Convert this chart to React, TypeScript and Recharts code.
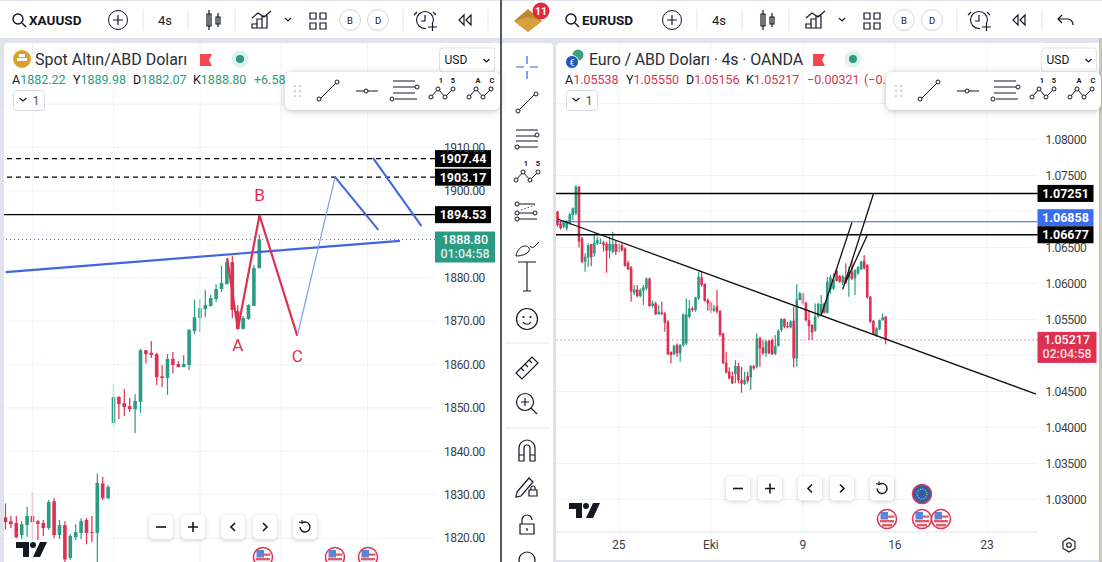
import React from 'react';
import {
  Bar,
  CartesianGrid,
  ComposedChart,
  Label,
  Line,
  ReferenceDot,
  ReferenceLine,
  XAxis,
  YAxis,
} from 'recharts';

const UP = '#2b9b83';
const DOWN = '#dd3152';
const GRID = '#f0f3fa';
const AXIS_TEXT = '#3b3f4a';
const BLUE = '#3f66e0';
const FONT = 'Roboto, sans-serif';

// XAUUSD, 4h candles
const goldOpen = [1824.8, 1823.9, 1823.5, 1820.7, 1823.0, 1825.1, 1823.9, 1823.5, 1822.3, 1828.5, 1820.7, 1823.0, 1815.4, 1820.2, 1821.2, 1824.2, 1821.4, 1821.2, 1832.6, 1829.2, 1846.5, 1852.5, 1851.1, 1850.4, 1849.7, 1851.4, 1863.3, 1862.7, 1862.4, 1857.3, 1856.9, 1861.3, 1860.1, 1859.4, 1859.9, 1867.7, 1870.7, 1872.8, 1873.5, 1875.1, 1877.4, 1878.5, 1883.6, 1872.3, 1868.2, 1870.5, 1873.5, 1882.22];
const goldHigh = [1828.0, 1825.1, 1825.1, 1823.9, 1827.2, 1830.6, 1824.2, 1824.2, 1828.8, 1829.2, 1824.2, 1823.9, 1820.9, 1823.2, 1824.6, 1824.6, 1825.1, 1834.9, 1834.1, 1832.2, 1855.5, 1852.7, 1854.4, 1852.3, 1853.2, 1863.6, 1863.3, 1865.4, 1862.7, 1859.9, 1862.4, 1862.9, 1860.8, 1862.2, 1868.1, 1874.9, 1875.1, 1877.2, 1876.0, 1878.5, 1882.7, 1884.5, 1885.0, 1873.7, 1871.2, 1873.9, 1882.9, 1889.98];
const goldLow = [1822.1, 1822.3, 1820.0, 1819.8, 1820.3, 1819.6, 1819.6, 1820.5, 1821.9, 1820.0, 1819.8, 1814.5, 1815.0, 1819.6, 1819.8, 1818.6, 1819.1, 1814.5, 1828.8, 1829.0, 1845.6, 1847.4, 1848.1, 1849.1, 1844.2, 1848.8, 1860.3, 1861.5, 1855.3, 1854.8, 1853.0, 1858.0, 1859.4, 1859.4, 1858.7, 1867.0, 1867.5, 1870.9, 1873.3, 1874.4, 1876.7, 1878.5, 1870.7, 1868.1, 1868.1, 1870.3, 1873.5, 1882.07];
const goldClose = [1823.7, 1823.2, 1820.2, 1823.2, 1825.1, 1823.7, 1823.3, 1822.3, 1828.3, 1820.7, 1823.0, 1815.1, 1820.5, 1821.4, 1823.9, 1821.2, 1821.3, 1832.7, 1829.2, 1831.8, 1852.5, 1850.9, 1850.2, 1849.7, 1851.6, 1863.3, 1862.4, 1862.2, 1857.1, 1856.9, 1861.3, 1859.9, 1859.4, 1860.1, 1868.0, 1870.9, 1873.0, 1873.7, 1875.3, 1877.4, 1878.8, 1883.6, 1872.6, 1868.2, 1870.7, 1873.7, 1882.2, 1888.8];
const goldTicks = [1820, 1830, 1840, 1850, 1860, 1870, 1880, 1900, 1910];
const goldGridLevels = [1820, 1830, 1840, 1850, 1860, 1870, 1880, 1890, 1900, 1910, 1920];
const goldSessions = [5, 20, 36, 51, 67];
const goldTrend = [[0, 1881.3], [73, 1888.5]];
const goldWave = [[41, 1884.5], [43, 1868.2], [47, 1894.4], [54, 1866.6]];
const goldRise = [[54, 1866.6], [61, 1903.2]];
const goldFallA = [[61, 1903.2], [69, 1891.0]];
const goldFallB = [[68, 1907.6], [77, 1891.9]];
const GOLD_SLOTS = 80;

// EURUSD, 4h candles
const euroOpen = [1.06997, 1.06835, 1.06789, 1.06766, 1.06835, 1.06951, 1.06974, 1.07344, 1.06627, 1.06303, 1.06363, 1.06548, 1.06419, 1.06557, 1.06567, 1.06571, 1.06548, 1.06456, 1.06442, 1.06548, 1.06442, 1.06534, 1.06488, 1.06289, 1.06224, 1.05872, 1.05918, 1.05826, 1.05900, 1.05932, 1.06067, 1.05687, 1.05724, 1.05576, 1.05599, 1.05585, 1.05469, 1.05053, 1.05016, 1.05145, 1.05030, 1.05145, 1.05168, 1.05539, 1.05655, 1.05631, 1.05793, 1.06085, 1.05993, 1.05770, 1.05738, 1.05622, 1.05687, 1.05617, 1.05307, 1.04900, 1.04775, 1.04715, 1.04742, 1.04854, 1.04659, 1.04604, 1.04715, 1.04696, 1.04854, 1.04844, 1.05238, 1.05113, 1.05030, 1.05205, 1.05215, 1.05020, 1.05131, 1.05354, 1.05506, 1.05409, 1.05391, 1.05483, 1.04960, 1.05770, 1.05863, 1.05733, 1.05492, 1.05423, 1.05344, 1.05539, 1.05585, 1.05724, 1.05594, 1.05918, 1.05928, 1.06178, 1.06104, 1.06011, 1.06094, 1.06071, 1.06164, 1.06071, 1.06141, 1.06196, 1.06317, 1.06256, 1.05817, 1.05483, 1.05275, 1.05363, 1.05492, 1.05538];
const euroHigh = [1.07011, 1.06882, 1.06882, 1.06882, 1.06983, 1.07057, 1.07368, 1.07354, 1.06650, 1.06419, 1.06557, 1.06548, 1.06696, 1.06650, 1.06627, 1.06594, 1.06580, 1.06650, 1.06719, 1.06594, 1.06557, 1.06557, 1.06502, 1.06317, 1.06243, 1.05979, 1.05979, 1.05932, 1.05979, 1.06085, 1.06085, 1.05761, 1.05747, 1.05701, 1.05747, 1.05608, 1.05492, 1.05053, 1.05145, 1.05168, 1.05159, 1.05585, 1.05793, 1.05770, 1.05678, 1.05816, 1.06164, 1.06164, 1.06002, 1.05793, 1.05747, 1.05701, 1.05909, 1.05631, 1.05317, 1.05053, 1.04835, 1.04775, 1.04937, 1.04900, 1.04844, 1.04775, 1.04775, 1.04867, 1.04867, 1.05307, 1.05261, 1.05215, 1.05215, 1.05215, 1.05238, 1.05284, 1.05363, 1.05516, 1.05516, 1.05469, 1.05492, 1.05678, 1.05988, 1.05886, 1.05872, 1.05747, 1.05631, 1.05437, 1.05724, 1.05733, 1.05840, 1.05733, 1.06094, 1.06118, 1.06141, 1.06196, 1.06118, 1.06118, 1.06280, 1.06233, 1.06326, 1.06196, 1.06243, 1.06317, 1.06395, 1.06270, 1.05826, 1.05492, 1.05391, 1.05502, 1.05585, 1.05550];
const euroLow = [1.06789, 1.06752, 1.06766, 1.06733, 1.06812, 1.06882, 1.06951, 1.06502, 1.06280, 1.06164, 1.06233, 1.06243, 1.06372, 1.06534, 1.06548, 1.06442, 1.06150, 1.06349, 1.06419, 1.06395, 1.06428, 1.06442, 1.06233, 1.06187, 1.05747, 1.05840, 1.05807, 1.05807, 1.05701, 1.05909, 1.05678, 1.05668, 1.05562, 1.05562, 1.05562, 1.05330, 1.05006, 1.04891, 1.05006, 1.04983, 1.04914, 1.05122, 1.05145, 1.05516, 1.05608, 1.05608, 1.05770, 1.05955, 1.05747, 1.05622, 1.05585, 1.05608, 1.05585, 1.05261, 1.04881, 1.04752, 1.04668, 1.04604, 1.04613, 1.04613, 1.04483, 1.04590, 1.04613, 1.04520, 1.04798, 1.04821, 1.04844, 1.05006, 1.04983, 1.05020, 1.05006, 1.05006, 1.05122, 1.05330, 1.05377, 1.05377, 1.05377, 1.04835, 1.04844, 1.05770, 1.05701, 1.05469, 1.05215, 1.05215, 1.05330, 1.05530, 1.05562, 1.05585, 1.05585, 1.05854, 1.05909, 1.06025, 1.06011, 1.05979, 1.05993, 1.05817, 1.06048, 1.05840, 1.06118, 1.06187, 1.06196, 1.05793, 1.05455, 1.05284, 1.05261, 1.05354, 1.05483, 1.05156];
const euroClose = [1.06812, 1.06766, 1.06858, 1.06858, 1.06960, 1.07044, 1.07344, 1.06580, 1.06303, 1.06372, 1.06534, 1.06363, 1.06567, 1.06604, 1.06567, 1.06534, 1.06456, 1.06548, 1.06548, 1.06442, 1.06548, 1.06465, 1.06243, 1.06196, 1.05886, 1.05918, 1.05826, 1.05909, 1.05946, 1.06067, 1.05687, 1.05724, 1.05576, 1.05608, 1.05576, 1.05455, 1.05016, 1.05006, 1.05136, 1.05030, 1.05145, 1.05571, 1.05571, 1.05655, 1.05631, 1.05807, 1.06094, 1.05979, 1.05761, 1.05724, 1.05622, 1.05655, 1.05608, 1.05284, 1.04891, 1.04761, 1.04682, 1.04613, 1.04854, 1.04659, 1.04613, 1.04659, 1.04650, 1.04854, 1.04821, 1.05238, 1.05099, 1.05030, 1.05192, 1.05030, 1.05020, 1.05131, 1.05344, 1.05506, 1.05400, 1.05391, 1.05469, 1.04960, 1.05780, 1.05863, 1.05724, 1.05492, 1.05409, 1.05321, 1.05539, 1.05715, 1.05715, 1.05594, 1.06025, 1.06085, 1.06057, 1.06039, 1.06025, 1.06094, 1.06011, 1.06164, 1.06067, 1.06187, 1.06224, 1.06303, 1.06210, 1.05807, 1.05465, 1.05298, 1.05377, 1.05492, 1.05530, 1.05217];
const euroTicks = [1.03, 1.035, 1.04, 1.045, 1.055, 1.06, 1.065, 1.075, 1.08];
const euroGridLevels = [1.03, 1.035, 1.04, 1.045, 1.05, 1.055, 1.06, 1.065, 1.07, 1.075, 1.08, 1.085];
const euroDateSlots = [20, 50, 80, 110, 140];
const euroDateLabels = ['25', 'Eki', '9', '16', '23'];
const euroFallLine = [[0, 1.06896], [156, 1.04465]];
const euroFanA = [[86, 1.05562], [96, 1.06849]];
const euroFanB = [[93, 1.05918], [103, 1.07243]];
const euroFanC = [[94, 1.06025], [101, 1.06669]];
const EURO_SLOTS = 157;

function buildRows(slots, open, high, low, close, drawings) {
  const rows = [];
  for (let i = 0; i < slots; i++) {
    const has = i < open.length;
    rows.push({
      i,
      range: has ? [low[i], high[i]] : null,
      open: has ? open[i] : null,
      close: has ? close[i] : null,
    });
  }
  Object.entries(drawings).forEach(([key, points]) => {
    points.forEach(([i, value]) => {
      rows[i][key] = value;
    });
  });
  return rows;
}

const goldRows = buildRows(GOLD_SLOTS, goldOpen, goldHigh, goldLow, goldClose, { goldTrend, goldWave, goldRise, goldFallA, goldFallB });
const euroRows = buildRows(EURO_SLOTS, euroOpen, euroHigh, euroLow, euroClose, { euroFallLine, euroFanA, euroFanB, euroFanC });

// wick + body, open/close placed inside the [low, high] rect the Bar hands us
function candleShape(bodyWidth) {
  return (props) => {
    const { x, y, width, height, payload } = props;
    if (payload.open == null) return null;
    const [low, high] = payload.range;
    const at = (p) => y + ((high - p) / (high - low)) * height;
    const cx = x + width / 2;
    const top = at(Math.max(payload.open, payload.close));
    const bottom = at(Math.min(payload.open, payload.close));
    const color = payload.close >= payload.open ? UP : DOWN;
    return (
      <g>
        <rect x={cx - 0.6} y={y} width={1.2} height={height} fill={color} />
        <rect x={cx - bodyWidth / 2} y={top} width={bodyWidth} height={Math.max(bottom - top, 1)} fill={color} />
      </g>
    );
  };
}

// shift: the terminal nudges a tag up when it would collide with its neighbour
function priceTag(text, fill, tagWidth, sub, shift = 0) {
  return (props) => {
    const { viewBox } = props;
    const x = viewBox.x + viewBox.width;
    const y = viewBox.y + shift;
    if (sub) {
      return (
        <g fontFamily={FONT} fontSize={12.5} fontWeight={500}>
          <rect x={x} y={y - 8} width={tagWidth} height={31} fill={fill} />
          <text x={x + tagWidth / 2} y={y + 4} fill="#fff" textAnchor="middle">{text}</text>
          <text x={x + tagWidth / 2} y={y + 18} fill="#fff" fillOpacity={0.85} textAnchor="middle">{sub}</text>
        </g>
      );
    }
    return (
      <g fontFamily={FONT} fontSize={12.5} fontWeight={700}>
        <rect x={x} y={y - 8.5} width={tagWidth} height={17} fill={fill} />
        <text x={x + tagWidth / 2} y={y + 4.5} fill="#fff" textAnchor="middle">{text}</text>
      </g>
    );
  };
}

function segment(key, color, width) {
  return (
    <Line
      key={key}
      dataKey={key}
      stroke={color}
      strokeWidth={width}
      dot={false}
      activeDot={false}
      connectNulls
      legendType="none"
      isAnimationActive={false}
    />
  );
}

function waveLetter(i, price, text) {
  return (
    <ReferenceDot
      key={text}
      x={i}
      y={price}
      r={1}
      fill="none"
      stroke="none"
      label={{ value: text, position: 'center', fill: DOWN, fontSize: 17, fontFamily: FONT }}
    />
  );
}

const tickStyle = { fill: AXIS_TEXT, fontSize: 12, fontFamily: FONT, letterSpacing: -0.4 };

function GoldChart() {
  return (
    <ComposedChart width={497} height={519} data={goldRows} margin={{ top: 0, right: 0, bottom: 0, left: 0 }} barCategoryGap={0}>
      <CartesianGrid stroke={GRID} horizontalValues={goldGridLevels} vertical={false} />
      {goldSessions.map((s) => (
        <ReferenceLine key={s} x={s} stroke={GRID} />
      ))}
      <XAxis dataKey="i" type="category" hide />
      <YAxis
        orientation="right"
        type="number"
        width={65}
        domain={[1814.5, 1934.08]}
        allowDataOverflow
        ticks={goldTicks}
        interval={0}
        tickFormatter={(v) => v.toFixed(2)}
        tick={tickStyle}
        tickLine={false}
        axisLine={false}
        tickSize={0}
        tickMargin={9}
      />
      <ReferenceLine y={1888.8} stroke={UP} strokeDasharray="1 3">
        <Label content={priceTag('1888.80', UP, 60, '01:04:58')} />
      </ReferenceLine>
      <ReferenceLine y={1907.44} stroke="#000" strokeWidth={1.4} strokeDasharray="5 4">
        <Label content={priceTag('1907.44', '#000', 56)} />
      </ReferenceLine>
      <ReferenceLine y={1903.17} stroke="#000" strokeWidth={1.4} strokeDasharray="5 4">
        <Label content={priceTag('1903.17', '#000', 56)} />
      </ReferenceLine>
      <ReferenceLine y={1894.53} stroke="#000" strokeWidth={1.4}>
        <Label content={priceTag('1894.53', '#000', 56)} />
      </ReferenceLine>
      <Bar dataKey="range" shape={candleShape(3.6)} isAnimationActive={false} />
      {segment('goldTrend', BLUE, 2.2)}
      {segment('goldWave', DOWN, 2.2)}
      {segment('goldRise', '#7f9cf0', 1.2)}
      {segment('goldFallA', BLUE, 2)}
      {segment('goldFallB', BLUE, 2)}
      {waveLetter(43, 1864.5, 'A')}
      {waveLetter(47, 1899.1, 'B')}
      {waveLetter(54, 1862, 'C')}
    </ComposedChart>
  );
}

function EuroChart() {
  return (
    <ComposedChart width={546.5} height={518} data={euroRows} margin={{ top: 0, right: 0, bottom: 0, left: 0 }} barCategoryGap={0}>
      <CartesianGrid stroke={GRID} horizontalValues={euroGridLevels} vertical={false} />
      {euroDateSlots.map((s) => (
        <ReferenceLine key={s} x={s} stroke={GRID} />
      ))}
      <XAxis
        dataKey="i"
        type="category"
        height={28}
        ticks={euroDateSlots}
        interval={0}
        tickFormatter={(v) => euroDateLabels[euroDateSlots.indexOf(v)]}
        tick={{ fill: AXIS_TEXT, fontSize: 12, fontFamily: FONT }}
        tickLine={false}
        axisLine={{ stroke: '#e0e3eb' }}
        tickSize={0}
        tickMargin={8}
      />
      <YAxis
        orientation="right"
        type="number"
        width={65}
        domain={[1.02549, 1.09354]}
        allowDataOverflow
        ticks={euroTicks}
        interval={0}
        tickFormatter={(v) => v.toFixed(5)}
        tick={tickStyle}
        tickLine={false}
        axisLine={false}
        tickSize={0}
        tickMargin={8}
      />
      <ReferenceLine y={1.05217} stroke={DOWN} strokeDasharray="1 3">
        <Label content={priceTag('1.05217', DOWN, 59, '02:04:58')} />
      </ReferenceLine>
      <ReferenceLine y={1.06858} stroke="#3f5fc8" strokeWidth={1.2}>
        <Label content={priceTag('1.06858', '#3a6cf0', 56, undefined, -4)} />
      </ReferenceLine>
      <ReferenceLine y={1.07251} stroke="#000" strokeWidth={1.4}>
        <Label content={priceTag('1.07251', '#000', 56)} />
      </ReferenceLine>
      <ReferenceLine y={1.06677} stroke="#000" strokeWidth={1.4}>
        <Label content={priceTag('1.06677', '#000', 56)} />
      </ReferenceLine>
      <Bar dataKey="range" shape={candleShape(2.6)} isAnimationActive={false} />
      {segment('euroFallLine', '#111', 1.3)}
      {segment('euroFanA', '#111', 1.3)}
      {segment('euroFanB', '#111', 1.3)}
      {segment('euroFanC', '#111', 1.3)}
    </ComposedChart>
  );
}

// ---- terminal chrome ----

const INK = '#131722';

function T({ x, y, size = 12, fill = INK, weight = 400, anchor = 'start', spacing = 0, children }) {
  return (
    <text x={x} y={y} fontSize={size} fill={fill} fontWeight={weight} textAnchor={anchor} fontFamily={FONT} letterSpacing={spacing}>
      {children}
    </text>
  );
}

function Stroke({ d, width = 1.2, color = INK }) {
  return <path d={d} fill="none" stroke={color} strokeWidth={width} />;
}

function Node({ cx, cy }) {
  return <circle cx={cx} cy={cy} r={2} fill="#fff" stroke={INK} strokeWidth={1} />;
}

function HeaderIcons({ x, label }) {
  const sep = (px) => <line x1={px} x2={px} y1={9} y2={31} stroke="#e0e3eb" />;
  return (
    <g>
      <circle cx={x.search} cy={19} r={5} fill="none" stroke={INK} strokeWidth={1.4} />
      <line x1={x.search + 4} y1={23} x2={x.search + 8} y2={27} stroke={INK} strokeWidth={1.4} />
      <T x={x.search + 11} y={25} size={13.5} weight={700}>{label}</T>
      <circle cx={x.plus} cy={20} r={9.5} fill="none" stroke={INK} strokeWidth={1} />
      <Stroke d={`M${x.plus - 5} 20H${x.plus + 5}M${x.plus} 15V25`} />
      {sep(x.plus + 25)}
      <T x={x.plus + 47} y={25} size={13} anchor="middle">4s</T>
      {sep(x.plus + 70)}
      <Stroke d={`M${x.plus + 91} 10V30M${x.plus + 89} 14h4v12h-4zM${x.plus + 100} 13V27M${x.plus + 98} 17h4v7h-4z`} />
      {sep(x.plus + 117)}
      <Stroke d={`M${x.plus + 134} 18l6-5 6 4 7-6M${x.plus + 134} 28v-4h5v4zM${x.plus + 139} 28v-9h5v9zM${x.plus + 144} 28v-12h5v12z`} />
      <Stroke d={`M${x.plus + 167} 18l3 3 3-3`} />
      <Stroke d={`M${x.plus + 192} 13h6v6h-6zM${x.plus + 202} 13h6v6h-6zM${x.plus + 192} 23h6v6h-6zM${x.plus + 202} 23h6v6h-6z`} />
      <circle cx={x.plus + 232} cy={20} r={10.5} fill="#fff" stroke="#d1d4dc" />
      <T x={x.plus + 232} y={24} size={9.5} anchor="middle">B</T>
      <circle cx={x.plus + 260} cy={20} r={10.5} fill="#fff" stroke="#d1d4dc" />
      <T x={x.plus + 260} y={24} size={9.5} anchor="middle">D</T>
      {sep(x.plus + 285)}
      <circle cx={x.plus + 307} cy={20} r={8.5} fill="none" stroke={INK} strokeWidth={1.1} />
      <Stroke d={`M${x.plus + 307} 15v6h-4M${x.plus + 299} 12l-3 3M${x.plus + 315} 12l3 3`} />
      <rect x={x.plus + 308} y={22} width={10} height={9} fill="#fff" />
      <Stroke d={`M${x.plus + 310} 27h9M${x.plus + 314.5} 22v9`} />
      <Stroke d={`M${x.plus + 346} 15l-5 5 5 5zM${x.plus + 353} 15l-5 5 5 5z`} />
      {sep(x.plus + 370)}
    </g>
  );
}

function ZigIcon({ ox, y, a, b, aX, bX }) {
  return (
    <g>
      <Stroke d={`M${ox} ${y}l7-8 7 8 8-8`} width={1} />
      <Node cx={ox} cy={y} />
      <Node cx={ox + 7} cy={y - 8} />
      <Node cx={ox + 14} cy={y} />
      <Node cx={ox + 22} cy={y - 8} />
      <T x={ox + aX} y={y - 14} size={7.5} weight={700} anchor="middle">{a}</T>
      <T x={ox + bX} y={y - 14} size={7.5} weight={700} anchor="middle">{b}</T>
    </g>
  );
}

function FloatingTools({ x }) {
  const dots = [];
  for (let r = 0; r < 3; r++) {
    for (let c = 0; c < 2; c++) {
      dots.push(<circle key={`${r}${c}`} cx={x + 10 + c * 5} cy={86 + r * 5} r={1.1} fill="#c4c7d0" />);
    }
  }
  return (
    <g>
      <rect x={x} y={72} width={215} height={38} rx={6} fill="#fff" style={{ filter: 'drop-shadow(0 1px 3px rgba(19,23,34,0.28))' }} />
      {dots}
      <Stroke d={`M${x + 35} 99L${x + 51} 83`} width={1} />
      <Node cx={x + 34} cy={99} />
      <Node cx={x + 52} cy={82} />
      <Stroke d={`M${x + 71} 91h22`} width={1} />
      <Node cx={x + 81} cy={91} />
      <Stroke d={`M${x + 108} 81h22M${x + 108} 87h22M${x + 108} 93h22M${x + 110} 99h22`} width={1} />
      <Node cx={x + 132} cy={87} />
      <Node cx={x + 107} cy={99} />
      <ZigIcon ox={x + 146} y={97} a="1" b="5" aX={10} bX={22} />
      <ZigIcon ox={x + 184} y={97} a="A" b="C" aX={9} bX={23} />
    </g>
  );
}

function PanelLabels({ boxX, usdX }) {
  return (
    <g>
      <rect x={boxX} y={90.5} width={31} height={20} rx={3} fill="#fff" stroke="#d9dbe2" />
      <Stroke d={`M${boxX + 6} 98l3.5 3 3.5-3`} />
      <T x={boxX + 19} y={105} size={12.5} fill="#50535e">1</T>
      <rect x={usdX} y={48} width={55} height={24} rx={3} fill="#fff" stroke="#e0e3eb" />
      <T x={usdX + 5} y={64} size={12}>USD</T>
      <Stroke d={`M${usdX + 44} 59l3 3 3-3`} />
    </g>
  );
}

function Readout({ x, color, parts }) {
  // letter/value pairs, laid out as in the legend row
  return (
    <g>
      {parts.map(([letter, value, px]) => (
        <text key={letter + value} x={x + px} y={84} fontSize={12.5} fontFamily={FONT}>
          <tspan fill={INK}>{letter}</tspan>
          <tspan fill={color}>{value}</tspan>
        </text>
      ))}
    </g>
  );
}

function NavButtons({ xs, cy }) {
  const [a, b, c, d, e] = xs;
  const box = (cx) => (
    <rect key={cx} x={cx - 12} y={cy - 12} width={24} height={24} rx={4} fill="#fff" style={{ filter: 'drop-shadow(0 1px 2px rgba(19,23,34,0.22))' }} />
  );
  return (
    <g>
      {xs.map(box)}
      <Stroke d={`M${a - 5} ${cy}h10`} width={1.6} />
      <Stroke d={`M${b - 5} ${cy}h10M${b} ${cy - 5}v10`} width={1.6} />
      <Stroke d={`M${c + 2} ${cy - 4}l-4 4 4 4`} width={1.6} />
      <Stroke d={`M${d - 2} ${cy - 4}l4 4-4 4`} width={1.6} />
      <Stroke d={`M${e - 3} ${cy - 4}a5 5 0 1 1 -2 4`} width={1.4} />
      <Stroke d={`M${e - 6} ${cy - 5}l3 1 0-3`} width={1.2} />
    </g>
  );
}

function TvLogo({ x, y }) {
  return (
    <g fill={INK}>
      <path d={`M${x} ${y}h13v15h-6v-9h-7z`} />
      <circle cx={x + 17} cy={y + 3} r={3} />
      <path d={`M${x + 24} ${y}h7l-7 15h-7z`} />
    </g>
  );
}

function UsFlag({ cx, cy }) {
  return (
    <g>
      <circle cx={cx} cy={cy} r={9.5} fill="#fff" />
      <rect x={cx - 7} y={cy + 1} width={14} height={2.4} fill="#e05a68" />
      <rect x={cx - 5} y={cy + 5} width={10} height={2.4} fill="#e05a68" />
      <rect x={cx - 6.5} y={cy - 7} width={7.5} height={7.5} fill="#5a86d8" />
      <rect x={cx + 1} y={cy - 3.5} width={6.5} height={2.2} fill="#e05a68" />
      <circle cx={cx} cy={cy} r={9.5} fill="none" stroke="#d63b58" strokeWidth={1.6} />
    </g>
  );
}

function EuFlag({ cx, cy }) {
  return (
    <g>
      <circle cx={cx} cy={cy} r={9.5} fill="#2e5fa8" stroke="#d63b58" strokeWidth={1.6} />
      <circle cx={cx} cy={cy} r={5} fill="none" stroke="#c9c46a" strokeWidth={1.2} strokeDasharray="1.2 1.4" />
    </g>
  );
}

function SideToolbar() {
  const cx = 527;
  return (
    <g>
      <Stroke color="#2962ff" d={`M${cx} 56v8M${cx} 71v8M${cx - 11} 67h8M${cx + 3} 67h8`} />
      <Stroke d={`M${cx - 8} 110l16-16`} width={1} />
      <Node cx={cx - 9} cy={111} />
      <Node cx={cx + 9} cy={94} />
      <Stroke d={`M${cx - 11} 130h22M${cx - 11} 136h22M${cx - 11} 141h22M${cx - 8} 147h19`} width={1} />
      <Node cx={cx + 10} cy={135} />
      <Node cx={cx - 10} cy={147} />
      <ZigIcon ox={cx - 11} y={180} a="1" b="5" aX={10} bX={22} />
      <Stroke d={`M${cx - 8} 204h16M${cx - 8} 213h18M${cx - 8} 219h18`} width={1} />
      <path d={`M${cx - 6} 210l14-5`} fill="none" stroke={INK} strokeWidth={0.8} strokeDasharray="1.5 2" />
      <Node cx={cx - 10} cy={204} />
      <Node cx={cx - 10} cy={213} />
      <Node cx={cx - 10} cy={219} />
      <Node cx={cx + 8} cy={213} />
      <Stroke d={`M${cx - 11} 256c1-6 5-10 9-10s5 3 4 5c-2 3-7 5-13 5zM${cx + 3} 246c1 2 3 2 5 0l4-4`} width={1} />
      <Stroke d={`M${cx - 9} 262h18M${cx} 262v29M${cx - 4} 291h8`} width={1.1} />
      <circle cx={cx} cy={319} r={10.5} fill="none" stroke={INK} strokeWidth={1.2} />
      <circle cx={cx - 3.5} cy={317} r={1.1} fill={INK} />
      <circle cx={cx + 3.5} cy={317} r={1.1} fill={INK} />
      <Stroke d={`M${cx - 4} 322c2 3 6 3 8 0`} />
      <line x1={cx - 22} x2={cx + 22} y1={343} y2={343} stroke="#e0e3eb" />
      <Stroke d={`M${cx - 11} 373l16-16 6 6-16 16zM${cx - 6} 368l3 3M${cx - 2} 364l3 3M${cx + 2} 360l3 3`} />
      <circle cx={cx - 2} cy={402} r={8.5} fill="none" stroke={INK} strokeWidth={1.2} />
      <Stroke d={`M${cx - 6} 402h8M${cx - 2} 398v8M${cx + 4} 408l6 6`} />
      <line x1={cx - 22} x2={cx + 22} y1={428} y2={428} stroke="#e0e3eb" />
      <Stroke d={`M${cx - 8} 461v-13a8 8 0 0 1 16 0v13h-5v-13a3 3 0 0 0-6 0v13zM${cx - 8} 455h5M${cx + 3} 455h5`} />
      <Stroke d={`M${cx - 10} 492l12-14 4 4-12 14-5 1zM${cx + 2} 496h8v-6h-8zM${cx + 4} 490v-2a2 2 0 0 1 4 0v2`} />
      <Stroke d={`M${cx - 7} 534v-10h14v10zM${cx - 5} 524v-4a5 5 0 0 1 10 0M${cx} 528v3`} />
      <circle cx={cx} cy={560} r={8} fill="none" stroke={INK} strokeWidth={1.2} />
    </g>
  );
}

function Overlay() {
  return (
    <svg width={1102} height={562} style={{ position: 'absolute', left: 0, top: 0 }}>
      <HeaderIcons x={{ search: 18, plus: 118 }} label="XAUUSD" />
      <HeaderIcons x={{ search: 571, plus: 672 }} label="EURUSD" />
      <Stroke d="M1062 15l-4 4 4 4M1058 19h10c3 0 5 3 5 6" />

      {/* broker logo + badge */}
      <path d="M514 21l14-12 14 12-14 11z" fill="#b98a2e" />
      <path d="M514 21l14-4 14 4-14 11z" fill="#d6a13c" />
      <circle cx={541} cy={11} r={8.5} fill="#e5283f" />
      <T x={541} y={15} size={10.5} fill="#fff" weight={700} anchor="middle">11</T>

      {/* left panel legend */}
      <circle cx={22} cy={59} r={9} fill="#d9a32b" />
      <rect x={17} y={58} width={10} height={3} fill="#fff" />
      <rect x={19} y={54} width={6} height={3} fill="#fff" />
      <T x={35} y={65} size={16} fill="#2a2e39">Spot Altın/ABD Doları</T>
      <path d="M200 54h12l-3 6 3 6h-12z" fill="#f7444f" />
      <circle cx={240} cy={59} r={8.5} fill="#dff1ec" />
      <circle cx={240} cy={59} r={4} fill={UP} />
      <Readout
        x={12}
        color={UP}
        parts={[['A', '1882.22', 0], ['Y', '1889.98', 61], ['D', '1882.07', 121], ['K', '1888.80', 181], ['', '+6.58', 242]]}
      />
      <PanelLabels boxX={13.5} usdX={439.5} />
      <FloatingTools x={285} />

      {/* right panel legend */}
      <circle cx={578} cy={55} r={5.5} fill="#3fa37a" />
      <circle cx={572} cy={62} r={6.5} fill="#2456b8" stroke="#fff" />
      <text x={572} y={65.5} fontSize={9} fill="#fff" textAnchor="middle" fontFamily={FONT}>€</text>
      <T x={589} y={65} size={16} fill="#2a2e39" spacing={-0.14}>Euro / ABD Doları · 4s · OANDA</T>
      <path d="M813 54h12l-3 6 3 6h-12z" fill="#f7444f" />
      <circle cx={853} cy={59} r={8.5} fill="#dff1ec" />
      <circle cx={853} cy={59} r={4} fill={UP} />
      <Readout
        x={565}
        color={DOWN}
        parts={[['A', '1.05538', 0], ['Y', '1.05550', 61], ['D', '1.05156', 121], ['K', '1.05217', 181], ['', '−0.00321', 242], ['', '(−0.30%)', 299]]}
      />
      <PanelLabels boxX={566.5} usdX={1041.5} />
      <FloatingTools x={886} />

      <SideToolbar />

      <NavButtons xs={[161, 193, 233, 265, 305]} cy={527} />
      <NavButtons xs={[738, 770, 810, 842, 882]} cy={488.5} />
      <TvLogo x={16} y={542} />
      <TvLogo x={569} y={503} />
      <UsFlag cx={263} cy={557} />
      <UsFlag cx={335} cy={557} />
      <UsFlag cx={368} cy={557} />
      <EuFlag cx={922} cy={494} />
      <UsFlag cx={887} cy={519} />
      <UsFlag cx={922} cy={519} />
      <UsFlag cx={941} cy={519} />

      {/* time axis settings */}
      <path d="M1069 538l6 3.5v7l-6 3.5-6-3.5v-7z" fill="none" stroke={INK} strokeWidth={1.1} />
      <circle cx={1069} cy={545} r={2.3} fill="none" stroke={INK} strokeWidth={1.1} />
    </svg>
  );
}

export default function App() {
  return (
    <div style={{ position: 'fixed', left: 0, top: 0, width: 1102, height: 562, overflow: 'hidden', background: '#e0e3eb', fontFamily: FONT }}>
      <div style={{ position: 'absolute', left: 0, top: 1, width: 1102, height: 37, background: '#fff' }} />
      <div style={{ position: 'absolute', left: 4, top: 43, width: 496, height: 519, background: '#fff', borderTopLeftRadius: 4 }} />
      <div style={{ position: 'absolute', left: 502, top: 43, width: 51, height: 519, background: '#fff', borderTopRightRadius: 4 }} />
      <div style={{ position: 'absolute', left: 556, top: 43, width: 546, height: 517, background: '#fff', borderTopLeftRadius: 4 }} />
      <div style={{ position: 'absolute', left: 3, top: 43 }}>
        <GoldChart />
      </div>
      <div style={{ position: 'absolute', left: 555.5, top: 42 }}>
        <EuroChart />
      </div>
      <div style={{ position: 'absolute', left: 0, top: 43, width: 4, height: 519, background: '#e0e3eb' }} />
      <div style={{ position: 'absolute', left: 1099, top: 38, width: 3, height: 524, background: '#c9c6ba' }} />
      <Overlay />
      <div style={{ position: 'absolute', left: 500, top: 0, width: 2, height: 562, background: '#55585f' }} />
    </div>
  );
}
